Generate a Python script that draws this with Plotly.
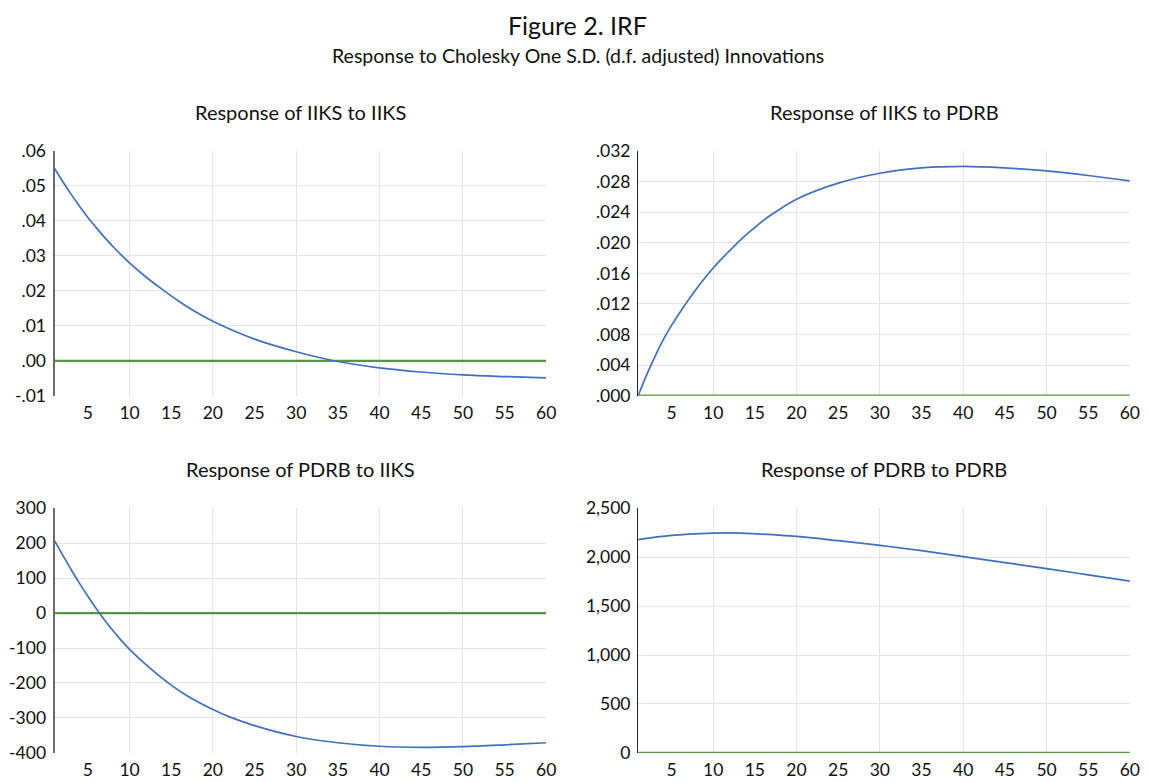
import plotly.graph_objects as go
from plotly.subplots import make_subplots

# ---- data ----
periods_all = list(range(1, 61))

p_iiks_iiks = [1, 2, 3, 4, 5, 6, 7, 8, 9, 10, 12, 14, 16, 18, 20, 25, 30, 35, 40, 45, 50, 55, 60]
v_iiks_iiks = [0.0550, 0.0512, 0.0476, 0.0442, 0.0410, 0.0381, 0.0353, 0.0327, 0.0303,
               0.0280, 0.0239, 0.0203, 0.0169, 0.0139, 0.0113, 0.0062, 0.0026, -0.0002,
               -0.0020, -0.0032, -0.0040, -0.0045, -0.0049]

p_iiks_pdrb = [1, 2, 3, 4, 5, 6, 7, 8, 9, 10, 11, 12, 13, 14, 15, 16, 17, 18, 20, 25, 30,
               35, 40, 45, 50, 55, 60]
v_iiks_pdrb = [0.0000, 0.0027, 0.0051, 0.0073, 0.0092, 0.0109, 0.0125, 0.0140, 0.0154,
               0.0167, 0.0179, 0.0190, 0.0201, 0.0211, 0.0220, 0.0229, 0.0237, 0.0244,
               0.0257, 0.0278, 0.0291, 0.0298, 0.0300, 0.0298, 0.0294, 0.0288, 0.0281]

p_pdrb_iiks = [1, 2, 3, 4, 5, 6, 7, 8, 9, 10, 12, 15, 17, 20, 22, 25, 30, 35, 40, 45, 50, 55, 60]
v_pdrb_iiks = [207, 165, 124, 85, 48, 13, -20, -50, -78, -104, -148, -206, -238, -276,
               -297, -322, -353, -371, -381, -384, -382, -377, -371]

p_pdrb_pdrb = [1, 5, 10, 12, 15, 20, 25, 30, 35, 40, 45, 50, 55, 60]
v_pdrb_pdrb = [2178, 2222, 2245, 2248, 2238, 2212, 2168, 2120, 2066, 2005, 1944,
               1883, 1819, 1755]

zero_line = [0] * 60

titles = ["Response of IIKS to IIKS", "Response of IIKS to PDRB",
          "Response of PDRB to IIKS", "Response of PDRB to PDRB"]

x_tickvals = list(range(5, 61, 5))
x_ticktext = [str(v) for v in x_tickvals]
x_gridvals = [10, 20, 30, 40, 50]

y1_vals = [-0.01, 0.0, 0.01, 0.02, 0.03, 0.04, 0.05, 0.06]
y1_text = ["-.01", ".00", ".01", ".02", ".03", ".04", ".05", ".06"]
y2_vals = [0.0, 0.004, 0.008, 0.012, 0.016, 0.020, 0.024, 0.028, 0.032]
y2_text = [".000", ".004", ".008", ".012", ".016", ".020", ".024", ".028", ".032"]
y3_vals = [-400, -300, -200, -100, 0, 100, 200, 300]
y3_text = ["-400", "-300", "-200", "-100", "0", "100", "200", "300"]
y4_vals = [0, 500, 1000, 1500, 2000, 2500]
y4_text = ["0", "500", "1,000", "1,500", "2,000", "2,500"]

# ---- figure ----
W, H = 1149, 783
FONT = "Lato"
BLUE = "#4170c2"
GREEN = "#579640"
GRID = "#e4e4e4"
TXT = "#111111"

fig = make_subplots(rows=2, cols=2)

series = [(p_iiks_iiks, v_iiks_iiks), (p_iiks_pdrb, v_iiks_pdrb),
          (p_pdrb_iiks, v_pdrb_iiks), (p_pdrb_pdrb, v_pdrb_pdrb)]
for i, (px, pv) in enumerate(series):
    r, c = i // 2 + 1, i % 2 + 1
    fig.add_trace(go.Scatter(x=periods_all, y=zero_line, mode="lines",
                             line=dict(color=GREEN, width=2.3), showlegend=False,
                             hoverinfo="skip"), row=r, col=c)
    fig.add_trace(go.Scatter(x=px, y=pv, mode="lines",
                             line=dict(color=BLUE, width=1.7, shape="spline", smoothing=1.0),
                             showlegend=False), row=r, col=c)

# pixel-to-paper helpers (compensating the observed render scale/offset)
SX, OX = 0.9919, 7.44
SY, OY = 0.981, 16.9

def fx(p):
    return (p - OX) / SX / W

def fy(p):
    return 1 - (p - OY) / SY / H

doms_x = [[fx(54), fx(546)], [fx(638), min(1.0, fx(1130))],
          [fx(54), fx(546)], [fx(638), min(1.0, fx(1130))]]
doms_y = [[fy(396.7), fy(150)], [fy(396.7), fy(150)],
          [fy(756.7), fy(510)], [fy(756.7), fy(510)]]
yranges = [[-0.01, 0.06], [0, 0.032], [-400, 300], [0, 2500]]
yticks = [(y1_vals, y1_text), (y2_vals, y2_text), (y3_vals, y3_text), (y4_vals, y4_text)]
ylinecol = ["#6b6b6b", "#222222", "#6b6b6b", "#222222"]
ylinew = [2, 1.3, 2, 1.3]

for i in range(4):
    xa = "xaxis" if i == 0 else f"xaxis{i+1}"
    ya = "yaxis" if i == 0 else f"yaxis{i+1}"
    fig.layout[xa].update(
        domain=doms_x[i], range=[1, 60], tickvals=x_tickvals, ticktext=x_ticktext,
        showgrid=False, zeroline=False, showline=False, ticks="",
        ticklabelstandoff=5,
        tickfont=dict(family=FONT, size=17.5, color=TXT),
        minor=dict(tickvals=x_gridvals, showgrid=True, gridcolor=GRID,
                   gridwidth=1, ticks=""),
    )
    fig.layout[ya].update(
        domain=doms_y[i], range=yranges[i], tickvals=yticks[i][0], ticktext=yticks[i][1],
        showgrid=True, gridcolor=GRID, gridwidth=1, zeroline=False,
        showline=True, linecolor=ylinecol[i], linewidth=ylinew[i], ticks="",
        ticklabelstandoff=3,
        tickfont=dict(family=FONT, size=17.5, color=TXT),
    )

annotations = [
    dict(text="Figure 2. IRF", x=0.5, y=fy(23), xref="paper", yref="paper",
         showarrow=False, font=dict(family=FONT, size=25, color=TXT),
         xanchor="center", yanchor="middle"),
    dict(text="Response to Cholesky One S.D. (d.f. adjusted) Innovations", x=0.5,
         y=fy(54), xref="paper", yref="paper", showarrow=False,
         font=dict(family=FONT, size=19.5, color=TXT), xanchor="center", yanchor="middle"),
]
title_y = [111, 111, 471, 471]
for i in range(4):
    annotations.append(dict(text=titles[i], x=sum(doms_x[i]) / 2 if i % 2 == 0 else fx(884),
                            y=fy(title_y[i]),
                            xref="paper", yref="paper", showarrow=False,
                            font=dict(family=FONT, size=20, color=TXT),
                            xanchor="center", yanchor="middle"))

fig.update_layout(width=W, height=H, margin=dict(l=0, r=0, t=0, b=0),
                  paper_bgcolor="white", plot_bgcolor="white",
                  annotations=annotations, showlegend=False)

fig.write_html("out.html")
